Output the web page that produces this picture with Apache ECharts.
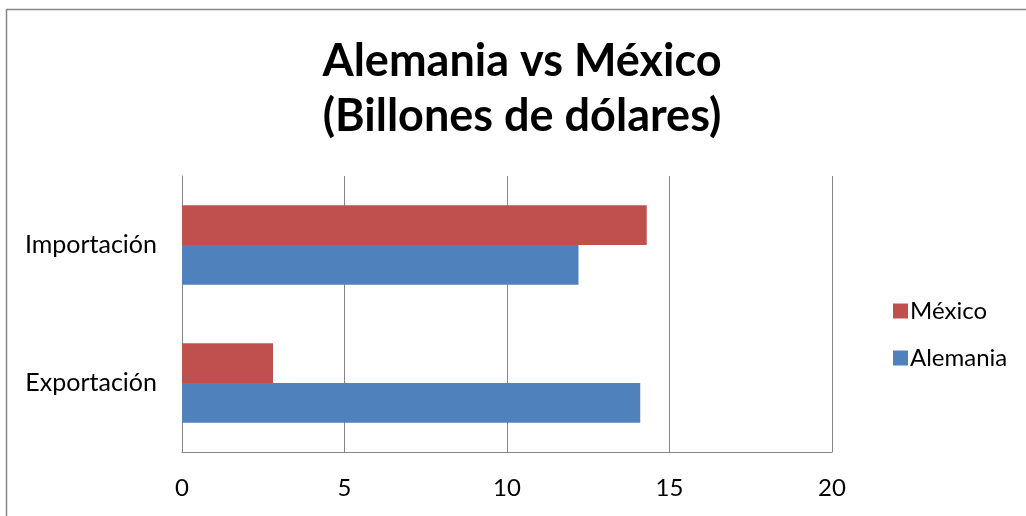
<!DOCTYPE html>
<html>
<head>
<meta charset="utf-8">
<script src="https://cdn.jsdelivr.net/npm/echarts@6/dist/echarts.min.js"></script>
<style>
html,body{margin:0;padding:0;background:#fff;}
#chart{width:1026px;height:516px;}
</style>
</head>
<body>
<div id="chart"></div>
<script>
const titleText = 'Alemania vs México\n(Billones de dólares)';
const categories = ['Exportación', 'Importación'];
const alemania = [14.1, 12.2];
const mexico = [2.8, 14.3];
const xTicks = [0, 5, 10, 15, 20];

const FONT = 'Lato';
const chart = echarts.init(document.getElementById('chart'), null, {renderer: 'canvas'});
chart.setOption({
  animation: false,
  backgroundColor: '#fff',
  graphic: [{
    type: 'rect', left: 4, top: 7, silent: true,
    shape: {width: 1200, height: 700},
    style: {fill: 'none', stroke: '#868686', lineWidth: 1.5}
  }],
  title: {
    text: titleText,
    left: 517, top: 29, textAlign: 'center',
    textStyle: {fontFamily: FONT, fontWeight: 'bold', fontSize: 45, color: '#000', lineHeight: 55}
  },
  legend: {
    orient: 'vertical',
    left: 888, top: 294,
    itemWidth: 15, itemHeight: 15, itemGap: 23,
    icon: 'rect',
    data: ['México', 'Alemania'],
    textStyle: {fontFamily: FONT, fontSize: 24, color: '#000', padding: [0, 0, 0, -3]}
  },
  grid: {left: 182, right: 194, top: 176, bottom: 64, containLabel: false},
  xAxis: {
    type: 'value', min: xTicks[0], max: xTicks[xTicks.length - 1], interval: 5,
    axisLine: {show: true, lineStyle: {color: '#868686', width: 1}},
    axisTick: {show: false},
    splitLine: {show: true, lineStyle: {color: '#868686', width: 1}},
    axisLabel: {fontFamily: FONT, fontSize: 24, color: '#000', margin: 24}
  },
  yAxis: {
    type: 'category', data: categories,
    axisLine: {show: true, lineStyle: {color: '#868686', width: 1}},
    axisTick: {show: false},
    axisLabel: {fontFamily: FONT, fontSize: 25, color: '#000', margin: 25}
  },
  series: [
    {name: 'México', type: 'bar', data: mexico, barGap: '0%', barCategoryGap: '42.5%',
     itemStyle: {color: '#C0504D'}},
    {name: 'Alemania', type: 'bar', data: alemania, barGap: '0%', barCategoryGap: '42.5%',
     itemStyle: {color: '#4F81BD'}}
  ]
});
</script>
</body>
</html>
